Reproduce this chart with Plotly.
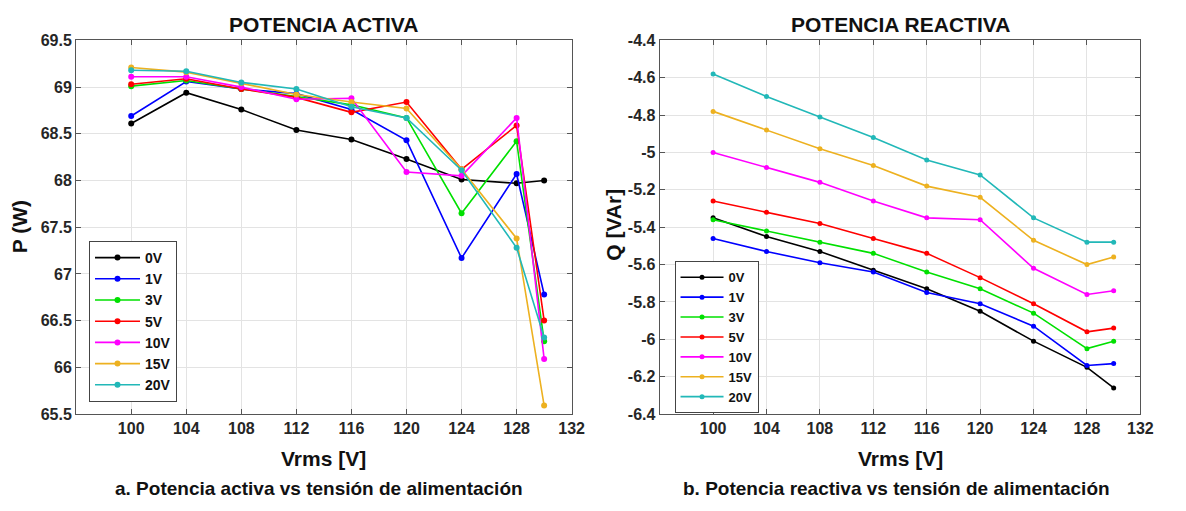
import plotly.graph_objects as go

vrms = [100, 104, 108, 112, 116, 120, 124, 128, 130]
series_names = ["0V", "1V", "3V", "5V", "10V", "15V", "20V"]
colors = ["#000000", "#0000FF", "#00E000", "#FF0000", "#FF00FF", "#EDB120", "#22B8B8"]

p_0v = [68.61, 68.94, 68.76, 68.54, 68.44, 68.23, 68.01, 67.97, 68.00]
p_1v = [68.69, 69.06, 68.98, 68.93, 68.76, 68.43, 67.17, 68.07, 66.78]
p_3v = [69.01, 69.07, 68.98, 68.90, 68.81, 68.67, 67.65, 68.42, 66.28]
p_5v = [69.03, 69.09, 68.98, 68.89, 68.73, 68.84, 68.12, 68.59, 66.50]
p_10v = [69.11, 69.11, 69.00, 68.87, 68.88, 68.09, 68.05, 68.67, 66.09]
p_15v = [69.21, 69.16, 69.04, 68.92, 68.84, 68.77, 68.12, 67.38, 65.59]
p_20v = [69.18, 69.17, 69.05, 68.98, 68.79, 68.67, 68.11, 67.28, 66.32]

q_0v = [-5.35, -5.45, -5.53, -5.63, -5.73, -5.85, -6.01, -6.15, -6.26]
q_1v = [-5.46, -5.53, -5.59, -5.64, -5.75, -5.81, -5.93, -6.14, -6.13]
q_3v = [-5.36, -5.42, -5.48, -5.54, -5.64, -5.73, -5.86, -6.05, -6.01]
q_5v = [-5.26, -5.32, -5.38, -5.46, -5.54, -5.67, -5.81, -5.96, -5.94]
q_10v = [-5.00, -5.08, -5.16, -5.26, -5.35, -5.36, -5.62, -5.76, -5.74]
q_15v = [-4.78, -4.88, -4.98, -5.07, -5.18, -5.24, -5.47, -5.60, -5.56]
q_20v = [-4.58, -4.70, -4.81, -4.92, -5.04, -5.12, -5.35, -5.48, -5.48]

p_series = [p_0v, p_1v, p_3v, p_5v, p_10v, p_15v, p_20v]
q_series = [q_0v, q_1v, q_3v, q_5v, q_10v, q_15v, q_20v]

x_ticks = [100, 104, 108, 112, 116, 120, 124, 128, 132]
p_ticks = [65.5, 66, 66.5, 67, 67.5, 68, 68.5, 69, 69.5]
p_ticklabels = ["65.5", "66", "66.5", "67", "67.5", "68", "68.5", "69", "69.5"]
q_ticks = [-6.4, -6.2, -6.0, -5.8, -5.6, -5.4, -5.2, -5.0, -4.8, -4.6, -4.4]
q_ticklabels = ["-6.4", "-6.2", "-6", "-5.8", "-5.6", "-5.4", "-5.2", "-5", "-4.8", "-4.6", "-4.4"]

FONT = "Liberation Sans, Arial, sans-serif"
W, H = 1186, 511

def px(x):
    return x / W

def py(y):
    return 1 - y / H

fig = go.Figure()
for name, col, ys in zip(series_names, colors, p_series):
    fig.add_trace(go.Scatter(x=vrms, y=ys, name=name, mode="lines+markers",
                             line=dict(color=col, width=1.6), marker=dict(color=col, size=6),
                             xaxis="x", yaxis="y", legend="legend"))
for name, col, ys in zip(series_names, colors, q_series):
    fig.add_trace(go.Scatter(x=vrms, y=ys, name=name, mode="lines+markers",
                             line=dict(color=col, width=1.6), marker=dict(color=col, size=5),
                             xaxis="x2", yaxis="y2", legend="legend2"))

axis_common = dict(showgrid=True, gridcolor="#e3e3e3", gridwidth=1, zeroline=False,
                   showline=True, linecolor="#555555", linewidth=1.2, mirror="ticks",
                   ticks="inside", ticklen=5, tickcolor="#555555",
                   tickfont=dict(family=FONT, size=16, color="#262626", weight="bold"))

fig.update_layout(
    width=W, height=H,
    margin=dict(l=0, r=0, t=0, b=0),
    paper_bgcolor="white", plot_bgcolor="white",
    font=dict(family=FONT, color="#111111"),
    xaxis=dict(domain=[px(77), px(578)], range=[96, 132], tickvals=x_ticks, anchor="y", **axis_common),
    yaxis=dict(domain=[py(420), py(33.5)], range=[65.5, 69.5], tickvals=p_ticks, ticktext=p_ticklabels, anchor="x", **axis_common),
    xaxis2=dict(domain=[px(667), px(1153)], range=[96, 132], tickvals=x_ticks, anchor="y2", **axis_common),
    yaxis2=dict(domain=[py(420), py(33.5)], range=[-6.4, -4.4], tickvals=q_ticks, ticktext=q_ticklabels, anchor="x2", **axis_common),
    legend=dict(x=px(90), y=py(241), xanchor="left", yanchor="top", bgcolor="white",
                bordercolor="#444444", borderwidth=1, tracegroupgap=0, itemwidth=45,
                font=dict(family=FONT, size=14, color="#111111", weight="bold")),
    legend2=dict(x=px(682), y=py(262), xanchor="left", yanchor="top", bgcolor="white",
                 bordercolor="#444444", borderwidth=1, tracegroupgap=0, itemwidth=43,
                 font=dict(family=FONT, size=13, color="#111111", weight="bold")),
    showlegend=True,
)

def ann(text, x, y, size, angle=0):
    fig.add_annotation(text="<b>%s</b>" % text, x=px(x), y=py(y), xref="paper", yref="paper",
                       xanchor="center", yanchor="middle", showarrow=False, textangle=angle,
                       font=dict(family=FONT, size=size, color="#111111"))

ann("POTENCIA ACTIVA", 327.5, 17.5, 21)
ann("POTENCIA REACTIVA", 910, 17.5, 21)
ann("P (W)", 20, 226, 21, -90)
ann("Q [VAr]", 620, 224, 21, -90)
ann("Vrms [V]", 327, 466, 21)
ann("Vrms [V]", 910, 466, 21)
ann("a. Potencia activa vs tensión de alimentación", 323, 497, 19)
ann("b. Potencia reactiva vs tensión de alimentación", 906, 497, 19)

fig.write_html("out.html")
